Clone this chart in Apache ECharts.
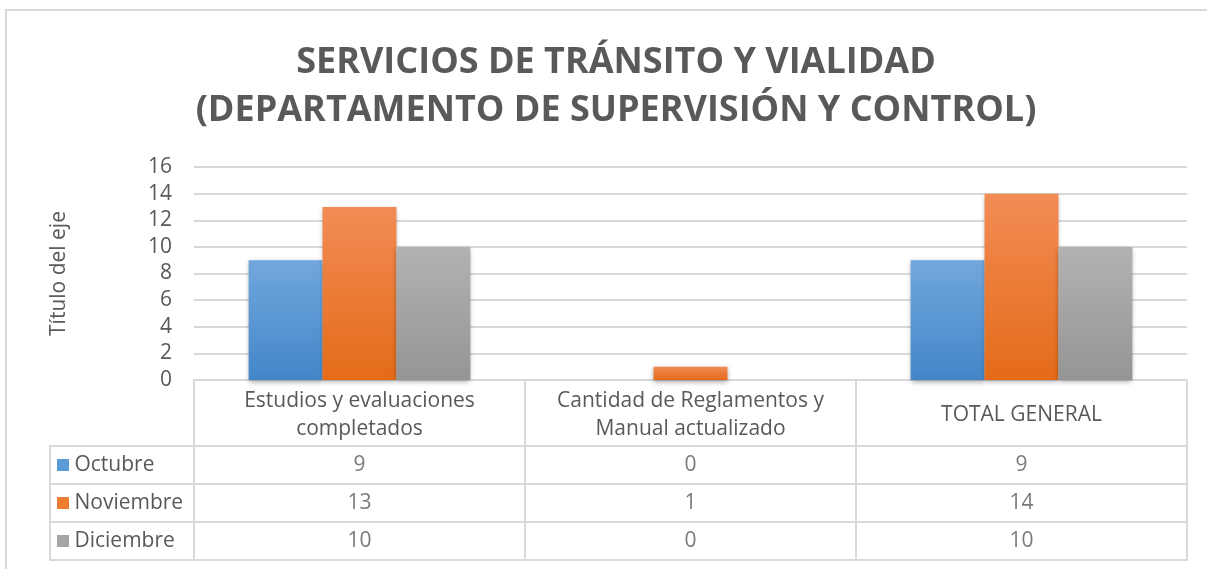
<!DOCTYPE html>
<html>
<head>
<meta charset="utf-8">
<script src="https://cdn.jsdelivr.net/npm/echarts@6/dist/echarts.min.js"></script>
<style>
html, body { margin: 0; padding: 0; background: #fff; }
#chart { width: 1207px; height: 569px; }
</style>
</head>
<body>
<div id="chart"></div>
<script>
var categories = ["Estudios y evaluaciones\ncompletados", "Cantidad de Reglamentos y\nManual actualizado", "TOTAL GENERAL"];
var months = ["Octubre", "Noviembre", "Diciembre"];
var octubre = [9, 0, 9];
var noviembre = [13, 1, 14];
var diciembre = [10, 0, 10];
var yTicks = [0, 16, 2]; // min, max, interval

var txt = "#595959";
var lineCol = "#d9d9d9";
var font = "'Open Sans', 'Liberation Sans', sans-serif";
var fs = 21;

var grad = function(top, bottom) {
    return new echarts.graphic.LinearGradient(0, 0, 0, 1, [
        {offset: 0, color: top},
        {offset: 1, color: bottom}
    ]);
};
var fills = [grad("#71a7dd", "#4386c8"), grad("#f28c55", "#e46b19"), grad("#b2b2b2", "#959595")];
var keyColors = ["#5b9bd5", "#ed7d31", "#a5a5a5"];
var seriesVals = [octubre, noviembre, diciembre];

// celdas de la tabla: [columna, fila, valor]
var cells = [];
for (var r = 0; r < seriesVals.length; r++) {
    for (var c = 0; c < categories.length; c++) {
        cells.push([c, r, seriesVals[r][c]]);
    }
}

var rich = {};
months.forEach(function(m, i) {
    rich["k" + i] = {width: 12, height: 12, backgroundColor: keyColors[i]};
});

var chart = echarts.init(document.getElementById('chart'));

var series = months.map(function(m, i) {
    return {
        name: m,
        type: 'bar',
        xAxisIndex: 0,
        yAxisIndex: 0,
        barGap: 0,
        barCategoryGap: '33%',
        data: seriesVals[i],
        itemStyle: {
            color: fills[i],
            shadowBlur: 5,
            shadowColor: 'rgba(0,0,0,0.35)',
            shadowOffsetY: 2
        }
    };
});
series.push({
    type: 'scatter',
    xAxisIndex: 1,
    yAxisIndex: 1,
    symbol: 'rect',
    symbolSize: 1,
    silent: true,
    itemStyle: {color: 'rgba(0,0,0,0)'},
    label: {
        show: true,
        position: 'inside',
        color: txt,
        fontSize: fs,
        fontFamily: font,
        formatter: function(p) { return p.value[2]; }
    },
    data: cells
});

chart.setOption({
    animation: false,
    backgroundColor: '#fff',
    title: {
        text: "SERVICIOS DE TRÁNSITO Y VIALIDAD\n(DEPARTAMENTO DE SUPERVISIÓN Y CONTROL)",
        left: 611,
        top: 34,
        textAlign: 'center',
        textStyle: {
            color: txt,
            fontSize: 36,
            fontWeight: 'bold',
            fontFamily: font,
            lineHeight: 48
        }
    },
    graphic: [{
        type: 'polyline',
        shape: {points: [[6, 569], [6, 10], [1207, 10]]},
        style: {stroke: lineCol, lineWidth: 2, fill: null},
        silent: true
    }],
    grid: [
        {left: 194, right: 20, top: 167, height: 213},
        {left: 194, right: 20, top: 446, height: 114}
    ],
    xAxis: [{
        gridIndex: 0,
        type: 'category',
        data: categories,
        axisLine: {lineStyle: {color: lineCol, width: 2}},
        axisTick: {show: true, inside: false, interval: 0, length: 66, lineStyle: {color: lineCol, width: 2}},
        axisLabel: {
            interval: 0,
            hideOverlap: false,
            color: txt, fontSize: fs, fontFamily: font, lineHeight: 28, margin: 7,
            formatter: function(v) {
                return v.indexOf('\n') < 0 ? '{one|' + v + '}' : v;
            },
            rich: {one: {lineHeight: 56, fontSize: fs, fontFamily: font, color: txt}}
        }
    }, {
        gridIndex: 1,
        type: 'category',
        data: categories,
        axisLine: {lineStyle: {color: lineCol, width: 2}},
        axisTick: {show: false, interval: 0},
        axisLabel: {show: false, interval: 0},
        splitLine: {show: true, interval: 0, lineStyle: {color: lineCol, width: 2}}
    }],
    yAxis: [{
        gridIndex: 0,
        type: 'value',
        min: yTicks[0],
        max: yTicks[1],
        interval: yTicks[2],
        name: 'Título del eje',
        nameLocation: 'middle',
        nameRotate: 90,
        nameGap: 124,
        nameTextStyle: {color: txt, fontSize: fs, fontFamily: font},
        axisLine: {show: false},
        axisTick: {show: false},
        axisLabel: {color: txt, fontSize: fs, fontFamily: font, margin: 22},
        splitLine: {lineStyle: {color: lineCol, width: 2}}
    }, {
        gridIndex: 1,
        type: 'category',
        data: months,
        inverse: true,
        axisLine: {show: true, lineStyle: {color: lineCol, width: 2}},
        axisTick: {show: true, inside: false, interval: 0, length: 144, lineStyle: {color: lineCol, width: 2}},
        axisLabel: {
            interval: 0,
            align: 'left',
            margin: 137,
            color: txt,
            fontSize: fs,
            fontFamily: font,
            formatter: function(v, i) { return '{k' + i + '|} ' + v; },
            rich: rich
        },
        splitLine: {show: true, interval: 0, lineStyle: {color: lineCol, width: 2}}
    }, {
        gridIndex: 1,
        type: 'category',
        data: months,
        position: 'left',
        offset: 144,
        axisLine: {show: true, lineStyle: {color: lineCol, width: 2}},
        axisTick: {show: false},
        axisLabel: {show: false}
    }],
    series: series
});
</script>
</body>
</html>
